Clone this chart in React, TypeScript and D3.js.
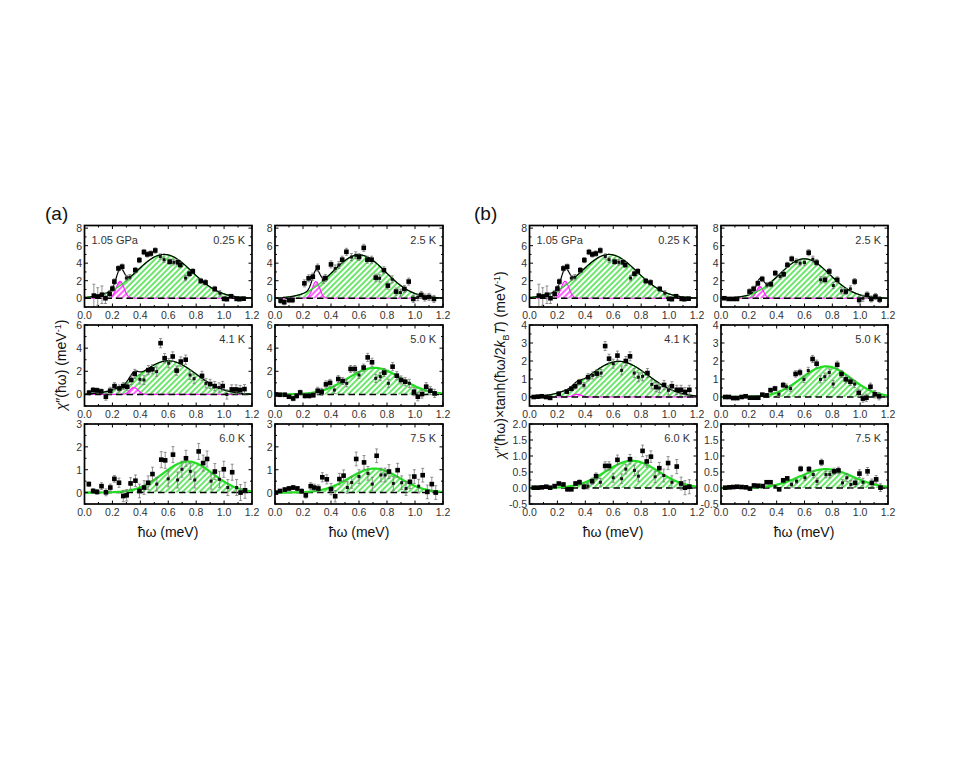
import React from 'react';
import * as d3 from 'd3';

type Pt = [number, number, number, number?];
type G = [number, number, number] | null;

const X_TICKS = [0, 0.2, 0.4, 0.6, 0.8, 1.0, 1.2];
const Y_TICKS_R1 = [0, 2, 4, 6, 8];
const Y_TICKS_A2 = [0, 2, 4, 6];
const Y_TICKS_A3 = [0, 1, 2, 3];
const Y_TICKS_B2 = [0, 1, 2, 3, 4];
const Y_TICKS_B3 = [-0.5, 0, 0.5, 1, 1.5, 2];
const TEMPS = ['0.25 K', '2.5 K', '4.1 K', '5.0 K', '6.0 K', '7.5 K'];
const PRESSURE = '1.05 GPa';

// fitted Gaussians: [centre, amplitude, sigma]
const GREEN_A: G[] = [[0.57, 5.0, 0.2], [0.6, 4.95, 0.19], [0.6, 2.9, 0.2], [0.71, 2.3, 0.19], [0.74, 1.36, 0.18], [0.71, 1.05, 0.18]];
const MAG_A: G[] = [[0.255, 1.93, 0.028], [0.293, 1.9, 0.026], [0.354, 0.6, 0.03], null, null, null];
const GREEN_B: G[] = [[0.57, 5.0, 0.2], [0.6, 4.5, 0.18], [0.64, 1.98, 0.21], [0.755, 1.7, 0.18], [0.735, 0.85, 0.19], [0.755, 0.59, 0.19]];
const MAG_B: G[] = [[0.255, 1.93, 0.028], [0.28, 1.33, 0.025], [0.343, 0.15, 0.03], null, null, null];

const A1: Pt[] = [[0.067,0.3,1.3],[0.095,0.2,1.0],[0.125,0.4,1.0],[0.15,0.0,0.6],[0.18,0.5,0.4],[0.2,1.1,0.3],[0.214,1.9,0.3],[0.243,3.4,0.3],[0.27,3.6,0.3],[0.3,2.3,0.3,1],[0.325,2.4,0.3,1],[0.364,3.2,0.3],[0.393,4.35,0.3],[0.426,5.27,0.3],[0.45,5.0,0.3],[0.475,5.1,0.3],[0.507,5.45,0.3],[0.543,4.77,0.3,1],[0.57,4.4,0.3,1],[0.61,4.17,0.3],[0.64,4.1,0.3,1],[0.67,4.1,0.3],[0.686,3.8,0.3],[0.724,2.3,0.3,1],[0.752,2.8,0.3],[0.776,3.07,0.3],[0.833,1.97,0.3],[0.867,1.8,0.3],[0.933,1.06,0.3],[0.97,0.57,0.3,1],[1.0,-0.07,0.2],[1.02,-0.1,0.2],[1.05,0.23,0.2],[1.09,-0.07,0.2],[1.11,-0.1,0.2],[1.14,-0.05,0.2]];
const A2: Pt[] = [[0.04,-0.27,0.3],[0.066,-0.45,0.3],[0.1,-0.2,0.3],[0.125,-0.2,0.3],[0.21,1.7,0.4],[0.24,2.27,0.4],[0.27,2.46,0.4],[0.305,3.5,0.4],[0.345,2.1,0.4,1],[0.36,2.3,0.4],[0.4,3.86,0.4],[0.43,3.4,0.4,1],[0.456,3.8,0.4,1],[0.48,4.4,0.4],[0.51,5.3,0.4],[0.546,4.7,0.4,1],[0.577,4.9,0.4,1],[0.6,4.7,0.4],[0.634,5.75,0.4],[0.66,4.4,0.4],[0.69,4.4,0.4],[0.72,2.35,0.4],[0.747,2.27,0.4,1],[0.778,3.2,0.4],[0.806,1.44,0.4],[0.837,2.16,0.4,1],[0.865,0.76,0.4],[0.896,0.64,0.4,1],[0.924,1.06,0.4],[0.955,1.9,0.4],[0.988,-0.08,0.4],[1.02,0.11,0.4,1],[1.045,0.38,0.4],[1.07,0.08,0.4],[1.1,0.15,0.4],[1.135,-0.08,0.4]];
const A3: Pt[] = [[0.033,0.15,0.2],[0.062,0.38,0.2],[0.09,0.35,0.2],[0.12,0.26,0.2],[0.153,-0.2,0.3],[0.184,0.32,0.3],[0.215,0.72,0.3],[0.25,0.52,0.3],[0.278,0.72,0.3],[0.306,0.67,0.3],[0.335,1.25,0.4],[0.36,1.77,0.4],[0.397,1.3,0.4,1],[0.426,1.25,0.4,1],[0.457,2.1,0.4],[0.486,2.17,0.4],[0.517,1.97,0.4,1],[0.545,4.43,0.4],[0.574,3.13,0.4],[0.603,2.7,0.4,1],[0.632,3.28,0.4],[0.66,2.06,0.4],[0.69,2.84,0.4],[0.725,3.0,0.4],[0.756,1.68,0.4,1],[0.785,1.36,0.4,1],[0.842,1.6,0.4],[0.87,0.96,0.4,1],[0.9,0.9,0.4],[0.933,0.72,0.4],[0.964,0.6,0.4,1],[0.99,0.72,0.4],[1.02,0.0,0.4,1],[1.055,0.43,0.4],[1.086,0.43,0.4],[1.115,0.38,0.4],[1.146,0.46,0.4]];
const A4: Pt[] = [[0.007,0,0.15],[0.036,-0.03,0.15],[0.07,-0.03,0.15],[0.1,-0.2,0.15],[0.13,-0.35,0.2],[0.155,-0.12,0.2],[0.18,0.17,0.2],[0.214,-0.12,0.2],[0.245,-0.12,0.2],[0.274,-0.06,0.2],[0.305,0.32,0.3],[0.333,0.23,0.3],[0.364,0.87,0.3],[0.393,1.0,0.3],[0.424,0.38,0.3,1],[0.452,1.33,0.3],[0.483,1.16,0.3],[0.512,0.96,0.3,1],[0.54,2.2,0.3],[0.57,2.2,0.3],[0.6,1.68,0.3,1],[0.633,2.32,0.3],[0.662,3.2,0.35],[0.693,2.78,0.35],[0.72,1.39,0.35,1],[0.752,1.54,0.35,1],[0.78,1.88,0.35],[0.81,0.96,0.35,1],[0.84,2.4,0.35],[0.87,1.62,0.35],[0.9,1.25,0.35],[0.93,1.1,0.35],[0.96,0.96,0.35,1],[0.993,0.23,0.35],[1.02,-0.2,0.35],[1.05,0.03,0.35],[1.08,0.67,0.35],[1.11,0.32,0.35],[1.14,0.09,0.35]];
const A5: Pt[] = [[0.031,0.37,0.1],[0.062,0.07,0.1],[0.09,0.03,0.1],[0.122,0.28,0.15],[0.154,0.01,0.15],[0.185,0.22,0.15],[0.214,0.6,0.15],[0.247,0.43,0.2],[0.278,-0.15,0.25],[0.302,-0.12,0.25],[0.33,0.4,0.25],[0.365,0.52,0.25],[0.394,0.07,0.3],[0.427,0.22,0.3],[0.456,0.43,0.3],[0.487,0.81,0.3],[0.518,0.37,0.3,1],[0.55,1.44,0.35],[0.578,1.41,0.35],[0.6,0.6,0.35,1],[0.634,1.66,0.35],[0.667,0.55,0.35,1],[0.698,1.02,0.35,1],[0.727,1.5,0.35],[0.758,0.93,0.35,1],[0.79,0.55,0.35,1],[0.818,1.8,0.35],[0.85,1.29,0.35],[0.878,1.47,0.35],[0.907,0.5,0.35,1],[0.934,0.92,0.35],[0.967,0.58,0.35,1],[0.998,1.02,0.35],[1.027,0.22,0.35,1],[1.058,0.89,0.35],[1.09,0.22,0.35,1],[1.118,0,0.35],[1.15,0.1,0.35]];
const A6: Pt[] = [[0.007,0,0.05],[0.036,0.07,0.05],[0.07,0.13,0.08],[0.1,0.18,0.08],[0.13,0.22,0.08],[0.16,0.18,0.08],[0.19,0.06,0.1],[0.22,-0.12,0.12],[0.255,0.28,0.15],[0.28,0.22,0.15],[0.31,0.18,0.15],[0.338,0.67,0.2],[0.37,0.58,0.2],[0.4,0.15,0.25],[0.43,-0.16,0.25],[0.46,0.59,0.25],[0.49,0.74,0.25],[0.517,0.22,0.25,1],[0.548,0.44,0.25,1],[0.58,1.47,0.3],[0.6,0.7,0.3,1],[0.636,1.32,0.3],[0.664,0.84,0.3,1],[0.695,0.37,0.3,1],[0.726,1.61,0.3],[0.757,0.77,0.3,1],[0.786,0.77,0.3,1],[0.814,0.92,0.3],[0.845,0.4,0.3,1],[0.876,0.98,0.3],[0.905,0.43,0.3,1],[0.936,0.18,0.3,1],[0.964,0.47,0.3],[0.995,0.7,0.3],[1.026,0.28,0.3,1],[1.055,0.76,0.3],[1.088,0.03,0.3],[1.12,0.37,0.3],[1.148,0,0.3]];

const B1: Pt[] = A1;
const B2: Pt[] = [[0.024,0,0.1],[0.055,-0.08,0.1],[0.086,-0.08,0.1],[0.115,-0.08,0.1],[0.205,0.76,0.3],[0.234,1.07,0.3],[0.265,1.7,0.3],[0.296,2.2,0.3],[0.33,1.5,0.3,1],[0.358,1.6,0.3],[0.39,2.86,0.3],[0.425,2.48,0.3,1],[0.45,2.74,0.3],[0.477,3.8,0.3],[0.508,4.5,0.3],[0.54,4.2,0.3,1],[0.568,4.0,0.3,1],[0.6,4.07,0.3,1],[0.63,5.2,0.35],[0.66,4.45,0.35,1],[0.687,4.07,0.35],[0.716,2.1,0.35,1],[0.747,2.1,0.35],[0.778,3.05,0.35],[0.807,1.45,0.35,1],[0.835,2.1,0.35],[0.866,0.84,0.35,1],[0.897,0.76,0.35],[0.93,1.07,0.35,1],[0.96,1.9,0.35],[0.993,-0.19,0.35],[1.02,0,0.35,1],[1.05,0.38,0.35],[1.08,-0.08,0.35],[1.11,0.19,0.35],[1.14,-0.15,0.35]];
const B3: Pt[] = [[0.03,0,0.05],[0.06,0.02,0.05],[0.088,0.04,0.05],[0.12,0,0.05],[0.148,-0.05,0.05],[0.21,0.18,0.1],[0.267,0.3,0.1],[0.3,0.46,0.12],[0.327,0.6,0.15],[0.358,0.83,0.15],[0.39,0.65,0.15,1],[0.42,1.1,0.2],[0.453,1.2,0.2,1],[0.482,1.3,0.2],[0.513,1.33,0.2,1],[0.542,2.83,0.25],[0.57,2.13,0.25],[0.6,1.85,0.25,1],[0.63,2.3,0.25],[0.66,1.48,0.25,1],[0.69,2.0,0.25],[0.72,2.26,0.25],[0.75,1.33,0.25,1],[0.78,1.1,0.25,1],[0.81,1.15,0.25,1],[0.845,1.33,0.25],[0.876,0.7,0.25,1],[0.907,0.55,0.25],[0.93,0.5,0.25,1],[0.964,0.67,0.25],[0.995,0.37,0.25,1],[1.02,0.6,0.25],[1.055,0.4,0.25],[1.086,0.4,0.25],[1.114,0.28,0.25],[1.145,0.4,0.25]];
const B4: Pt[] = [[0.03,0,0.03],[0.057,0,0.03],[0.088,-0.06,0.03],[0.117,-0.06,0.03],[0.148,0,0.03],[0.177,0.04,0.04],[0.208,-0.04,0.04],[0.237,-0.04,0.05],[0.268,-0.04,0.05],[0.297,0.13,0.06],[0.328,0.09,0.08],[0.356,0.38,0.1],[0.388,0.47,0.12],[0.416,0.15,0.12,1],[0.447,0.66,0.15],[0.47,0.57,0.15,1],[0.5,0.47,0.15,1],[0.536,1.28,0.18],[0.567,1.36,0.18],[0.596,0.98,0.18,1],[0.627,1.47,0.18,1],[0.658,2.11,0.2],[0.687,1.85,0.2],[0.715,0.98,0.2,1],[0.746,1.13,0.2,1],[0.778,1.36,0.2,1],[0.806,0.72,0.2,1],[0.835,1.79,0.2],[0.866,1.28,0.2],[0.897,0.98,0.2],[0.93,0.85,0.2],[0.96,0.72,0.2,1],[0.99,0.23,0.2],[1.02,-0.09,0.2],[1.045,-0.04,0.2],[1.074,0.57,0.2],[1.105,0.15,0.2],[1.136,0.04,0.2]];
const B5: Pt[] = [[0.03,0.01,0.02],[0.06,0.01,0.02],[0.088,0.02,0.02],[0.12,0.04,0.02],[0.148,0.01,0.02],[0.18,0.06,0.03],[0.21,0.14,0.03],[0.243,0.11,0.04],[0.272,-0.04,0.05],[0.3,-0.04,0.05],[0.33,0.14,0.06],[0.358,0.18,0.07],[0.39,0.04,0.08],[0.418,0.06,0.09,1],[0.449,0.21,0.1],[0.477,0.37,0.1],[0.508,0.18,0.12,1],[0.542,0.69,0.13],[0.57,0.69,0.13],[0.6,0.32,0.14,1],[0.63,0.88,0.15],[0.66,0.29,0.15,1],[0.69,0.59,0.15,1],[0.72,0.9,0.15],[0.752,0.55,0.16,1],[0.78,0.37,0.16,1],[0.81,1.16,0.18],[0.84,0.83,0.18],[0.87,0.98,0.18],[0.9,0.35,0.18,1],[0.93,0.62,0.18],[0.962,0.39,0.2,1],[0.993,0.78,0.2],[1.02,0.18,0.2,1],[1.055,0.67,0.22],[1.086,0.14,0.2],[1.114,0.01,0.22],[1.145,0.04,0.22]];
const B6: Pt[] = [[0.03,0.01,0.01],[0.06,0.02,0.01],[0.088,0.03,0.01],[0.117,0.04,0.01],[0.148,0.03,0.01],[0.18,0.02,0.02],[0.208,-0.02,0.02],[0.237,0.08,0.02],[0.268,0.07,0.02],[0.3,0.06,0.03],[0.328,0.18,0.03],[0.356,0.18,0.04],[0.388,0.04,0.05,1],[0.418,-0.04,0.05],[0.447,0.24,0.06],[0.476,0.3,0.06],[0.507,0.11,0.07,1],[0.543,0.21,0.07,1],[0.572,0.6,0.08],[0.603,0.32,0.08,1],[0.632,0.59,0.08],[0.663,0.42,0.1,1],[0.69,0.21,0.1,1],[0.722,0.8,0.1],[0.754,0.42,0.1,1],[0.782,0.42,0.1,1],[0.813,0.52,0.1],[0.844,0.55,0.1],[0.873,0.16,0.1,1],[0.904,0.32,0.12,1],[0.933,0.11,0.12,1],[0.964,0.16,0.12],[0.995,0.45,0.12],[1.02,0.18,0.12,1],[1.053,0.52,0.12],[1.084,0.16,0.12],[1.115,0.27,0.12],[1.146,0.01,0.12]];

const DATA_A = [A1, A2, A3, A4, A5, A6];
const DATA_B = [B1, B2, B3, B4, B5, B6];

const gauss = (p: G, x: number) => (p ? p[1] * Math.exp(-((x - p[0]) ** 2) / (2 * p[2] * p[2])) : 0);
const XS = d3.range(0, 1.2001, 0.004);
const fmt1 = (v: number) => v.toFixed(1);
const fmt0 = (v: number) => String(v);

interface PanelProps {
  x0: number; x1: number; y0: number; y1: number;
  dom: [number, number]; yTicks: number[]; yFmt: (v: number) => string;
  data: Pt[]; green: G; mag: G; temp: string; showP: boolean; id: string;
}

function Panel(p: PanelProps) {
  const x = d3.scaleLinear().domain([0, 1.2]).range([p.x0, p.x1]);
  const y = d3.scaleLinear().domain(p.dom).range([p.y1, p.y0]);
  const total = !!p.mag;
  const gArea = d3.area<number>().x(d => x(d)).y0(y(0)).y1(d => y(gauss(p.green, d)))(XS) || '';
  const gLine = d3.line<number>().x(d => x(d)).y(d => y(gauss(p.green, d)))(XS) || '';
  const mArea = p.mag ? d3.area<number>().x(d => x(d)).y0(y(0)).y1(d => y(gauss(p.mag, d)))(XS) || '' : '';
  const mLine = p.mag ? d3.line<number>().x(d => x(d)).y(d => y(gauss(p.mag, d)))(XS) || '' : '';
  const tLine = d3.line<number>().x(d => x(d)).y(d => y(gauss(p.green, d) + gauss(p.mag, d)))(XS) || '';
  const xMinor = d3.range(0, 1.2001, 0.1);
  const step = p.yTicks[1] - p.yTicks[0];
  const yMinor = d3.range(p.yTicks[0] - step / 2, p.dom[1] + 1e-6, step / 2).filter(v => v >= p.dom[0] - 1e-6);
  const tickFont = { fontFamily: 'Liberation Sans, Arial, sans-serif', fontSize: 10.5, fill: '#333' };
  return (
    <g>
      <defs>
        <clipPath id={p.id}><rect x={p.x0} y={p.y0} width={p.x1 - p.x0} height={p.y1 - p.y0} /></clipPath>
      </defs>
      <g clipPath={`url(#${p.id})`}>
        <path d={gArea} fill="url(#hatchG)" stroke="none" />
        {p.mag && <path d={mArea} fill="url(#hatchM)" stroke="none" />}
        {p.mag && <path d={mLine} fill="none" stroke="#ff22ff" strokeWidth={1.2} />}
        <line x1={p.x0} x2={p.x1} y1={y(0)} y2={y(0)} stroke="#000" strokeWidth={1.5} strokeDasharray="6.5,4" />
        <path d={gLine} fill="none" stroke="#22dd22" strokeWidth={total ? 1.2 : 2.2} />
        {total && <path d={tLine} fill="none" stroke="#000" strokeWidth={1.2} />}
        {p.data.map((d, i) => (
          <g key={i}>
            <line x1={x(d[0])} x2={x(d[0])} y1={y(d[1] - d[2])} y2={y(d[1] + d[2])} stroke="#777" strokeWidth={0.8} />
            <line x1={x(d[0]) - 1.5} x2={x(d[0]) + 1.5} y1={y(d[1] + d[2])} y2={y(d[1] + d[2])} stroke="#777" strokeWidth={0.8} />
            <line x1={x(d[0]) - 1.5} x2={x(d[0]) + 1.5} y1={y(d[1] - d[2])} y2={y(d[1] - d[2])} stroke="#777" strokeWidth={0.8} />
            {d[3] ? (
              <rect x={x(d[0]) - 1.5} y={y(d[1]) - 1.5} width={3} height={3} fill="#111" />
            ) : (
              <rect x={x(d[0]) - 2.3} y={y(d[1]) - 2.3} width={4.6} height={4.6} fill="#000" />
            )}
          </g>
        ))}
      </g>
      {xMinor.map((v, i) => {
        const len = i % 2 === 0 ? 3.5 : 2;
        return (
          <g key={'xt' + i}>
            <line x1={x(v)} x2={x(v)} y1={p.y1} y2={p.y1 - len} stroke="#000" strokeWidth={1} />
            <line x1={x(v)} x2={x(v)} y1={p.y0} y2={p.y0 + len} stroke="#000" strokeWidth={1} />
          </g>
        );
      })}
      {yMinor.map((v, i) => {
        const major = p.yTicks.some(t => Math.abs(t - v) < 1e-6);
        const len = major ? 3.5 : 2;
        return (
          <g key={'yt' + i}>
            <line x1={p.x0} x2={p.x0 + len} y1={y(v)} y2={y(v)} stroke="#000" strokeWidth={1} />
            <line x1={p.x1} x2={p.x1 - len} y1={y(v)} y2={y(v)} stroke="#000" strokeWidth={1} />
          </g>
        );
      })}
      <rect x={p.x0} y={p.y0} width={p.x1 - p.x0} height={p.y1 - p.y0} fill="none" stroke="#000" strokeWidth={1.7} />
      {X_TICKS.map((v, i) => (
        <text key={'xl' + i} x={x(v)} y={p.y1 + 11.5} textAnchor="middle" {...tickFont}>{fmt1(v)}</text>
      ))}
      {p.yTicks.map((v, i) => (
        <text key={'yl' + i} x={p.x0 - 2.5} y={y(v) + 4} textAnchor="end" {...tickFont}>{p.yFmt(v)}</text>
      ))}
      {p.showP && <text x={p.x0 + 7} y={p.y0 + 18} {...tickFont} fontSize={11}>{PRESSURE}</text>}
      <text x={p.x1 - 7} y={p.y0 + 18} textAnchor="end" {...tickFont} fontSize={11}>{p.temp}</text>
    </g>
  );
}

const COLS_A: [number, number][] = [[84.5, 252], [275, 443]];
const COLS_B: [number, number][] = [[529.5, 697], [721, 888]];
const ROWS: [number, number][] = [[225.5, 307], [325, 406], [424, 504]];

export default function App() {
  const panels: React.ReactNode[] = [];
  const domsA: [number, number][] = [[-1, 8.3], [-1, 6], [-0.5, 3]];
  const ticksA = [Y_TICKS_R1, Y_TICKS_A2, Y_TICKS_A3];
  const domsB: [number, number][] = [[-1, 8.3], [-0.5, 4], [-0.5, 2]];
  const ticksB = [Y_TICKS_R1, Y_TICKS_B2, Y_TICKS_B3];
  for (let i = 0; i < 6; i++) {
    const r = Math.floor(i / 2), c = i % 2;
    panels.push(
      <Panel key={'a' + i} id={'ca' + i} x0={COLS_A[c][0]} x1={COLS_A[c][1]} y0={ROWS[r][0]} y1={ROWS[r][1]}
        dom={domsA[r]} yTicks={ticksA[r]} yFmt={fmt0} data={DATA_A[i]} green={GREEN_A[i]} mag={MAG_A[i]}
        temp={TEMPS[i]} showP={i === 0} />
    );
    panels.push(
      <Panel key={'b' + i} id={'cb' + i} x0={COLS_B[c][0]} x1={COLS_B[c][1]} y0={ROWS[r][0]} y1={ROWS[r][1]}
        dom={domsB[r]} yTicks={ticksB[r]} yFmt={r === 2 ? fmt1 : fmt0} data={DATA_B[i]} green={GREEN_B[i]} mag={MAG_B[i]}
        temp={TEMPS[i]} showP={i === 0} />
    );
  }
  const lab = { fontFamily: 'Liberation Sans, Arial, sans-serif', fill: '#111' };
  return (
    <svg width={963} height={747} style={{ display: 'block' }}>
      <rect width={963} height={747} fill="#fff" />
      <defs>
        <pattern id="hatchG" patternUnits="userSpaceOnUse" width={4} height={4} patternTransform="rotate(45)">
          <line x1={1} y1={0} x2={1} y2={4} stroke="#2fdc2f" strokeWidth={1.4} />
        </pattern>
        <pattern id="hatchM" patternUnits="userSpaceOnUse" width={4} height={4} patternTransform="rotate(45)">
          <rect width={4} height={4} fill="#fff" />
          <line x1={1} y1={0} x2={1} y2={4} stroke="#ff22ff" strokeWidth={1.4} />
        </pattern>
      </defs>
      <g transform="translate(-8,-8)">
        <text x={45} y={220} fontSize={19} {...lab}>(a)</text>
        <text x={474} y={220} fontSize={19} {...lab}>(b)</text>
        {panels}
        <text x={168} y={537} textAnchor="middle" fontSize={14} {...lab}>ħω (meV)</text>
        <text x={359} y={537} textAnchor="middle" fontSize={14} {...lab}>ħω (meV)</text>
        <text x={613} y={537} textAnchor="middle" fontSize={14} {...lab}>ħω (meV)</text>
        <text x={804} y={537} textAnchor="middle" fontSize={14} {...lab}>ħω (meV)</text>
        <text transform="translate(66,365) rotate(-90)" textAnchor="middle" fontSize={14} {...lab}>
          <tspan fontStyle="italic">χ</tspan>″(ħω) (meV<tspan fontSize={9} dy={-5}>-1</tspan><tspan dy={5}>)</tspan>
        </text>
        <text transform="translate(505,365) rotate(-90)" textAnchor="middle" fontSize={14} {...lab}>
          <tspan fontStyle="italic">χ</tspan>″(ħω)×tanh(ħω/2<tspan fontStyle="italic">k</tspan><tspan fontSize={9} dy={4}>B</tspan><tspan dy={-4} fontStyle="italic">T</tspan>) (meV<tspan fontSize={9} dy={-5}>-1</tspan><tspan dy={5}>)</tspan>
        </text>
      </g>
    </svg>
  );
}
